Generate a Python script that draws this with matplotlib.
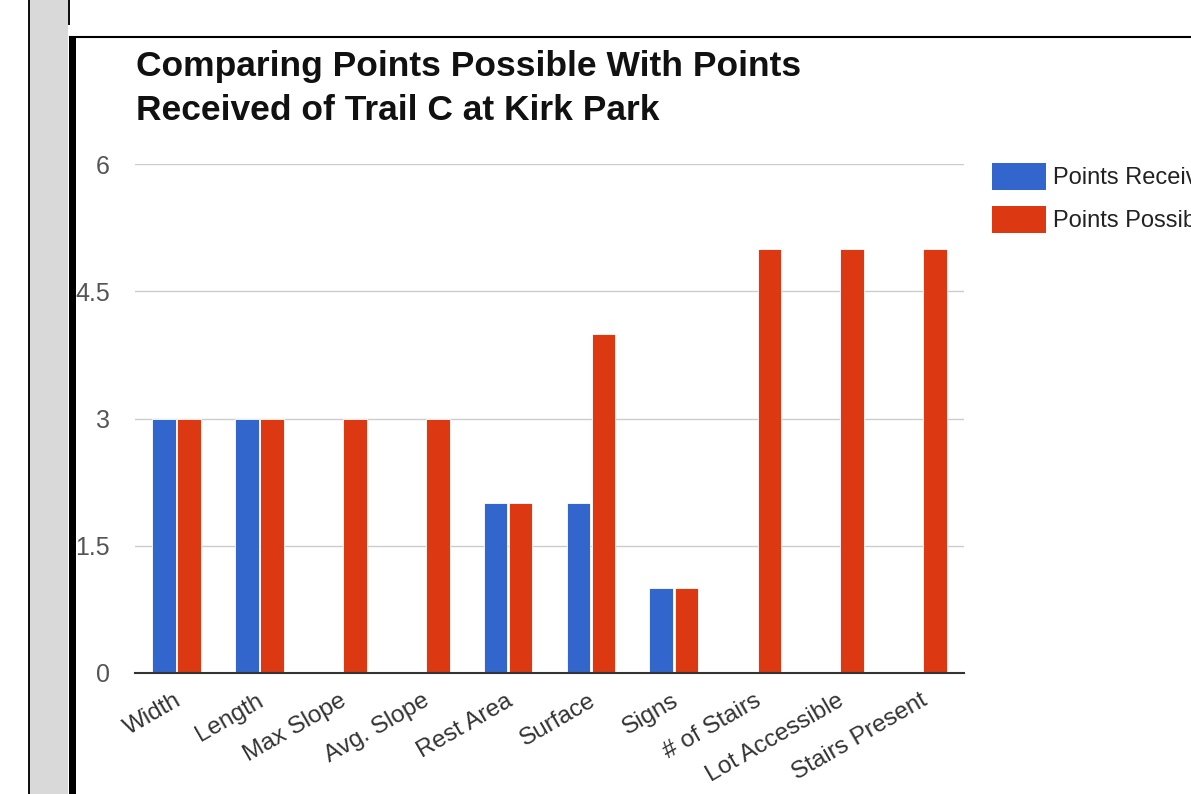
import matplotlib.pyplot as plt
import numpy as np
from matplotlib.patches import Rectangle
from matplotlib.lines import Line2D

plt.rcParams['font.family'] = ['Liberation Sans', 'DejaVu Sans']

categories = ["Width", "Length", "Max Slope", "Avg. Slope", "Rest Area",
              "Surface", "Signs", "# of Stairs", "Lot Accessible", "Stairs Present"]
points_received = [3, 3, 0, 0, 2, 2, 1, 0, 0, 0]
points_possible = [3, 3, 3, 3, 2, 4, 1, 5, 5, 5]
y_ticks = [0, 1.5, 3, 4.5, 6]
y_tick_labels = ["0", "1.5", "3", "4.5", "6"]

BLUE = "#3366cc"
RED = "#dc3912"

W, H = 1191, 794
fig = plt.figure(figsize=(W / 100, H / 100), dpi=100)
fig.patch.set_facecolor("white")


def fx(px):
    return px / W


def fy(py):
    return 1 - py / H


ax = fig.add_axes([fx(135), fy(673), fx(964) - fx(135), fy(164) - fy(673)])
x = np.arange(len(categories))
bw = 0.285
ax.bar(x - 0.152, points_received, bw, color=BLUE, edgecolor="white", linewidth=0.6, zorder=3)
ax.bar(x + 0.152, points_possible, bw, color=RED, edgecolor="white", linewidth=0.6, zorder=3)

ax.set_xlim(-0.5, len(categories) - 0.5)
ax.set_ylim(0, 6)
ax.set_yticks(y_ticks)
ax.set_yticklabels(y_tick_labels, fontsize=18, color="#555555")
ax.tick_params(axis="y", length=0, pad=18)
ax.set_xticks(x + 0.1)
ax.set_xticklabels(categories, rotation=30, ha="right", fontsize=17.5, color="#333333")
ax.tick_params(axis="x", length=0, pad=12)
ax.grid(axis="y", color="#cccccc", linewidth=1, zorder=0)
for s in ["top", "right", "left"]:
    ax.spines[s].set_visible(False)
ax.spines["bottom"].set_color("#333333")
ax.spines["bottom"].set_linewidth(1.5)
ax.spines["bottom"].set_zorder(4)

fig.text(fx(136), fy(76), "Comparing Points Possible With Points", fontsize=25.5,
         fontweight="bold", color="#111111", va="baseline")
fig.text(fx(136), fy(120), "Received of Trail C at Kirk Park", fontsize=25.5,
         fontweight="bold", color="#111111", va="baseline")

# legend
legend_items = [("Points Received", BLUE, 163), ("Points Possible", RED, 206)]
for label, col, top in legend_items:
    fig.add_artist(Rectangle((fx(992), fy(top + 27)), fx(54), 27 / H,
                             transform=fig.transFigure, facecolor=col, edgecolor="none"))
    fig.text(fx(1053), fy(top + 15), label, fontsize=17, color="#222222", va="center")

# page frame from the screenshot
fig.add_artist(Rectangle((fx(30), 0), fx(38), 1, transform=fig.transFigure,
                         facecolor="#d9d9d9", edgecolor="none", zorder=10))
fig.add_artist(Rectangle((fx(27.5), 0), fx(2.5), 1, transform=fig.transFigure,
                         facecolor="#111111", edgecolor="none", zorder=10))
fig.add_artist(Rectangle((fx(68), fy(25)), fx(2), 25 / H, transform=fig.transFigure,
                         facecolor="#111111", edgecolor="none", zorder=10))
fig.add_artist(Rectangle((fx(69), 0), fx(7), fy(38), transform=fig.transFigure,
                         facecolor="black", edgecolor="none", zorder=10))
fig.add_artist(Line2D([fx(70), 1], [fy(37), fy(37)], transform=fig.transFigure,
                      color="black", linewidth=1.5, zorder=10))

fig.savefig("out.png", dpi=100)
